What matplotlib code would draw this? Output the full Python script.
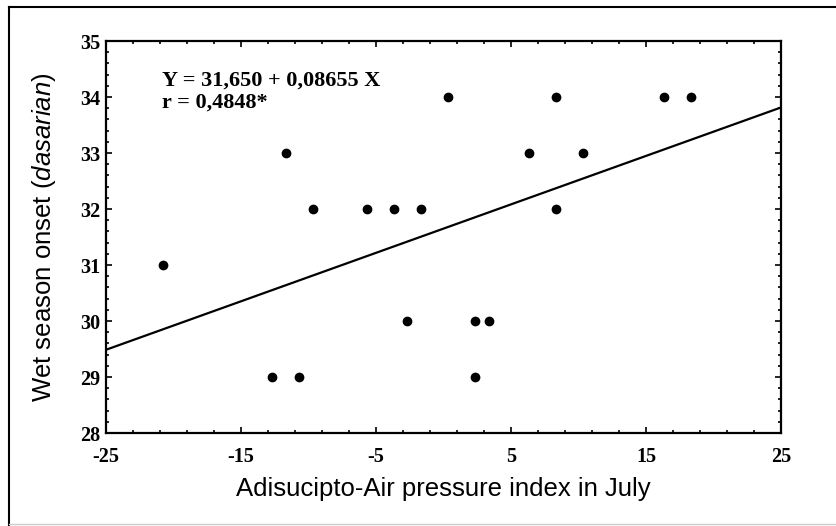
import matplotlib
matplotlib.use("Agg")
import matplotlib.pyplot as plt
import numpy as np
from matplotlib.lines import Line2D

# data
pressure_idx = [-20.8, -12.7, -10.7, -11.7, -9.7, -5.7, -3.7, -1.7, -2.7,
                2.3, 3.4, 2.3, 0.3, 6.3, 10.3, 8.3, 8.3, 16.3, 18.3]
onset = [31, 29, 29, 33, 32, 32, 32, 32, 30,
         30, 30, 29, 34, 33, 33, 32, 34, 34, 34]
intercept = 31.650
slope = 0.08655
r_value = "0,4848"
x_ticks = [-25, -15, -5, 5, 15, 25]
y_ticks = [28, 29, 30, 31, 32, 33, 34, 35]

SERIF = "Liberation Serif"
SANS = "Liberation Sans"
plt.rcParams["axes.unicode_minus"] = False
plt.rcParams["mathtext.fontset"] = "custom"
plt.rcParams["mathtext.rm"] = SANS
plt.rcParams["mathtext.it"] = SANS + ":italic"

fig = plt.figure(figsize=(8.37, 5.26), dpi=100)
ax = fig.add_axes([0.1266, 0.1768, 0.8065, 0.7452])

ax.plot(pressure_idx, onset, "o", color="black", markersize=6, zorder=3)
xl = np.array([x_ticks[0], x_ticks[-1]])
ax.plot(xl, intercept + slope * xl, color="black", lw=1.6)

ax.set_xlim(x_ticks[0], x_ticks[-1])
ax.set_ylim(y_ticks[0], y_ticks[-1])
ax.set_xticks(x_ticks)
ax.set_xticks(np.arange(x_ticks[0], x_ticks[-1], 2), minor=True)
ax.set_yticks(y_ticks)
ax.set_yticks(np.arange(y_ticks[0], y_ticks[-1], 0.2), minor=True)
ax.tick_params(which="both", direction="in", top=True, right=True,
               width=1.2, color="black")
ax.tick_params(which="major", length=4)
ax.tick_params(axis="x", which="major", pad=10)
ax.tick_params(axis="y", which="major", pad=4)
ax.tick_params(which="minor", length=2)
for lab in ax.get_xticklabels() + ax.get_yticklabels():
    lab.set_fontfamily(SERIF)
    lab.set_fontweight("bold")
    lab.set_fontsize(14.5)
for sp in ax.spines.values():
    sp.set_linewidth(1.6)

ax.text(0.083, 0.90, "Y = 31,650 + 0,08655 X", transform=ax.transAxes,
        fontfamily=SERIF, fontweight="bold", fontsize=16, va="center")
ax.text(0.083, 0.843, f"r = {r_value}*", transform=ax.transAxes,
        fontfamily=SERIF, fontweight="bold", fontsize=16, va="center")

ax.set_xlabel("Adisucipto-Air pressure index in July", fontfamily=SANS,
              fontsize=18.5, labelpad=7)
ax.set_ylabel("Wet season onset ($\\it{dasarian}$)", fontfamily=SANS,
              fontsize=18.5, labelpad=16)

# outer frame around the whole figure
fig.add_artist(Line2D([0.011, 0.011], [0.0, 0.987], color="black", lw=1.5))
fig.add_artist(Line2D([0.011, 1.0], [0.987, 0.987], color="black", lw=1.5))
fig.add_artist(Line2D([0.011, 1.0], [0.004, 0.004], color="#cccccc", lw=1))

fig.savefig("out.png", dpi=100)
